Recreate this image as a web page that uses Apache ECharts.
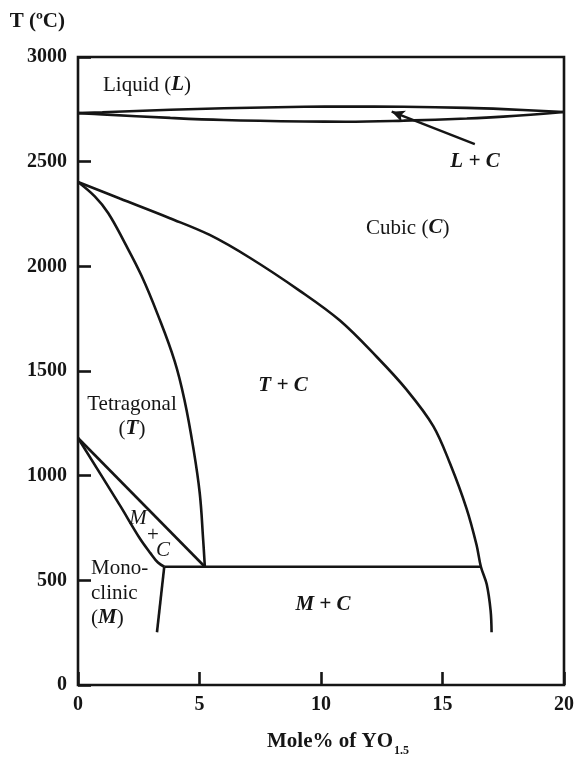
<!DOCTYPE html>
<html>
<head>
<meta charset="utf-8">
<script src="https://cdn.jsdelivr.net/npm/echarts@6/dist/echarts.min.js"></script>
<style>
html,body{margin:0;padding:0;background:#fff;}
#chart{width:580px;height:762px;}
</style>
</head>
<body>
<div id="chart"></div>
<script>
// ---- data (x: mole% YO1.5, y: temperature in °C) ----
var xTickValues = [0, 5, 10, 15, 20];
var yTickValues = [0, 500, 1000, 1500, 2000, 2500, 3000];
var liquidus = [[0,2732],[1,2736],[3.8,2748],[6,2755],[9.3,2762],[11,2763],[13.4,2762],[16,2757],[17.5,2751],[20,2737]];
var solidus = [[0,2732],[1,2726],[3.8,2709],[6,2699],[9.3,2692],[11,2691],[13.4,2696],[16,2706],[17.5,2715],[20,2737]];
var cubicBoundary = [[0,2403],[1.72,2324],[3.78,2230],[5.42,2150],[7.07,2041],[9.13,1883],[10.78,1741],[12.29,1568],[13.52,1411],[14.62,1237],[15.31,1058],[15.99,843],[16.40,670],[16.58,565],[16.82,481],[16.98,355],[17.02,252]];
var tetragonalBoundary = [[0,2403],[0.69,2334],[1.24,2255],[1.92,2113],[2.61,1956],[3.29,1767],[3.98,1546],[4.39,1357],[4.74,1136],[5.01,916],[5.15,695],[5.22,565]];
var tetragonalMCBoundary = [[0,1180],[5.22,565]];
var tetragonalMBoundary = [[0,1180],[1.72,859],[2.54,701],[2.98,630],[3.29,585],[3.55,565]];
var eutectoidLine = [[3.55,565],[16.58,565]];
var monoclinicSolvus = [[3.55,565],[3.25,252]];
var arrowFrom = [16.33, 2584];
var arrowTo = [12.91, 2739];

var FONT = 'Liberation Serif';
var INK = '#151515';
var LW = 2.6;

function curve(name, data, smooth) {
  return {
    name: name, type: 'line', data: data,
    showSymbol: false, symbol: 'none',
    smooth: smooth,
    lineStyle: { color: INK, width: LW },
    silent: true, z: 3
  };
}

var chart = echarts.init(document.getElementById('chart'), null, { renderer: 'canvas' });

var series = [
  curve('Liquidus', liquidus, 0.4),
  curve('Solidus', solidus, 0.4),
  curve('Cubic boundary', cubicBoundary, 0.35),
  curve('Tetragonal boundary', tetragonalBoundary, 0.4),
  curve('T / M+C', tetragonalMCBoundary, false),
  curve('T / M', tetragonalMBoundary, 0.35),
  curve('Eutectoid', eutectoidLine, false),
  curve('Monoclinic solvus', monoclinicSolvus, false)
];
series[0].markLine = {
  silent: true,
  symbol: ['none', 'arrow'],
  symbolSize: [9, 13],
  label: { show: false },
  lineStyle: { color: INK, width: 2.4, type: 'solid' },
  data: [[{ coord: arrowFrom }, { coord: arrowTo }]]
};

var rn = { fontFamily: FONT, fontSize: 21, color: INK };
var rb = { fontFamily: FONT, fontSize: 21, color: INK, fontWeight: 'bold', fontStyle: 'italic' };

function label(text, x, y, align, rich) {
  return {
    type: 'text', x: x, y: y, silent: true, z: 10,
    style: {
      text: text, fill: INK, font: '21px "' + FONT + '"',
      align: align || 'center', verticalAlign: 'middle',
      rich: rich || { n: rn, b: rb }
    }
  };
}

var option = {
  animation: false,
  backgroundColor: '#fff',
  grid: { left: 78, right: 16, top: 57, bottom: 70, show: true, borderColor: INK, borderWidth: 2.6, backgroundColor: 'transparent' },
  xAxis: {
    type: 'value', min: 0, max: 20, interval: 5,
    axisLine: { show: false },
    axisTick: { show: true, inside: true, length: 13, lineStyle: { color: INK, width: 2.6 } },
    axisLabel: { fontFamily: FONT, fontSize: 20, fontWeight: 'bold', color: INK, margin: 10,
      formatter: function (v) { return xTickValues.indexOf(v) >= 0 ? String(v) : ''; } },
    splitLine: { show: false },
    name: '{a|Mole% of YO}{s|1.5}',
    nameLocation: 'middle', nameGap: 46,
    nameTextStyle: {
      padding: [0, 0, 0, 34],
      rich: {
        a: { fontFamily: FONT, fontSize: 21, fontWeight: 'bold', color: INK, lineHeight: 22 },
        s: { fontFamily: FONT, fontSize: 12, fontWeight: 'bold', color: INK, lineHeight: 12, padding: [18, 0, 0, 1] }
      }
    }
  },
  yAxis: {
    type: 'value', min: 0, max: 3000, interval: 500,
    axisLine: { show: false },
    axisTick: { show: true, inside: true, length: 13, lineStyle: { color: INK, width: 2.6 } },
    axisLabel: { fontFamily: FONT, fontSize: 20, fontWeight: 'bold', color: INK, margin: 11,
      formatter: function (v) { return yTickValues.indexOf(v) >= 0 ? String(v) : ''; } },
    splitLine: { show: false },
    name: 'T (ºC)',
    nameLocation: 'end', nameGap: 35,
    nameTextStyle: { fontFamily: FONT, fontSize: 21, fontWeight: 'bold', color: INK, align: 'right', verticalAlign: 'middle', padding: [0, 13, 0, 0] }
  },
  series: series,
  graphic: [
    label('{n|Liquid (}{b|L}{n|)}', 103, 85, 'left'),
    label('{b|L + C}', 475, 162),
    label('{n|Cubic (}{b|C}{n|)}', 366, 228, 'left'),
    label('{b|T + C}', 283, 386),
    label('{n|Tetragonal}', 132, 404),
    label('{n|(}{b|T}{n|)}', 132, 429),
    label('{i|M}', 138, 518, 'center', { i: { fontFamily: FONT, fontSize: 21, color: INK, fontStyle: 'italic' } }),
    label('{n|+}', 153, 535),
    label('{i|C}', 163, 550, 'center', { i: { fontFamily: FONT, fontSize: 21, color: INK, fontStyle: 'italic' } }),
    label('{n|Mono-}', 91, 568, 'left'),
    label('{n|clinic}', 91, 593, 'left'),
    label('{n|(}{b|M}{n|)}', 91, 618, 'left'),
    label('{b|M + C}', 323, 605)
  ]
};
chart.setOption(option);
</script>
</body>
</html>
